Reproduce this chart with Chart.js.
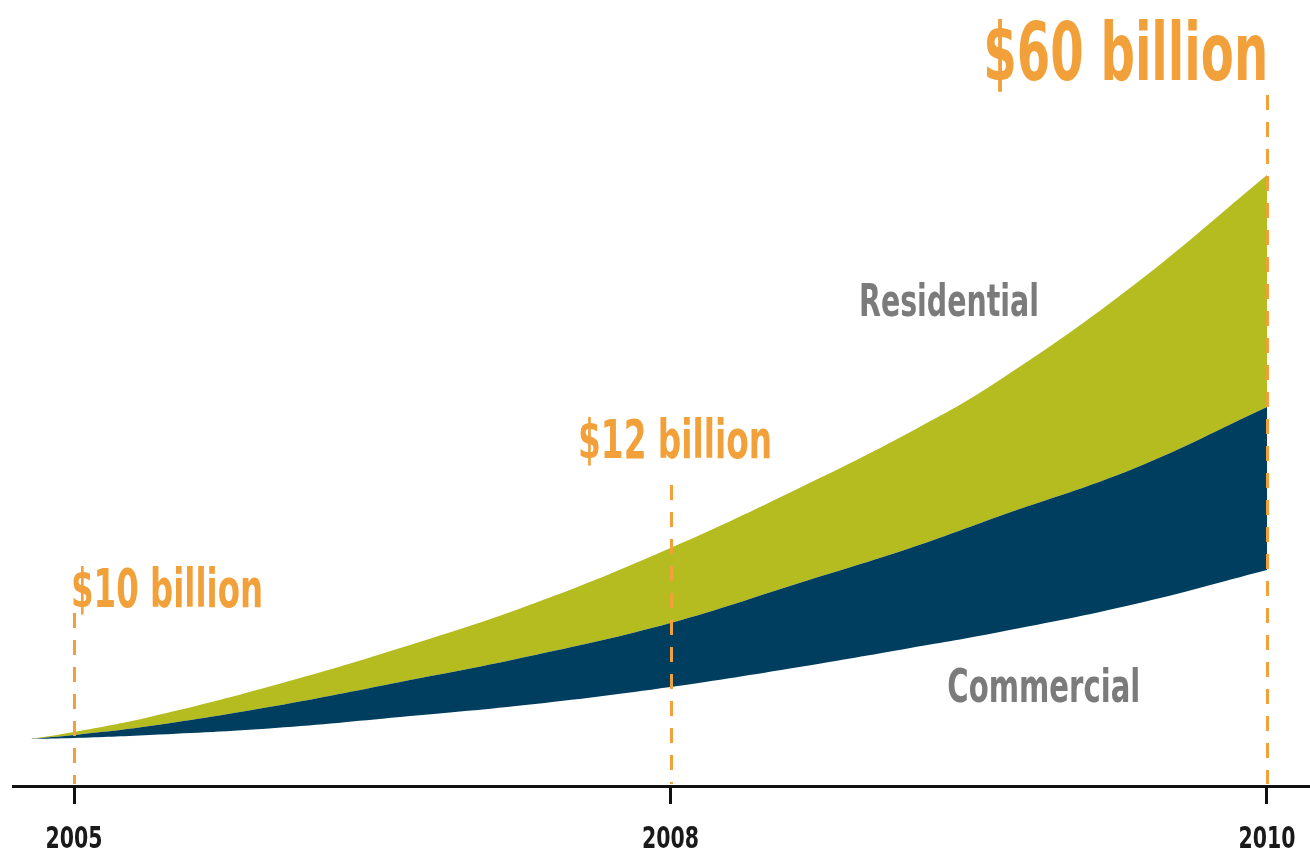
<!DOCTYPE html>
<html>
<head>
<meta charset="utf-8">
<script src="https://cdn.jsdelivr.net/npm/chart.js@4.4.1/dist/chart.umd.min.js"></script>
<style>
  html, body { margin: 0; padding: 0; background: #ffffff; }
  #wrap { width: 1310px; height: 855px; }
</style>
</head>
<body>
<div id="wrap"><canvas id="c" width="1310" height="855"></canvas></div>
<script>
// ---- data (x is position on the category-like time axis: 0 = 2005, 1 = 2008, 2 = 2010) ----
const tickValues = [0, 1, 2];
const tickLabels = ["2005", "2008", "2010"];
const xPos           = [-0.074, 0, 0.127, 0.337, 0.547, 0.773, 1.0, 1.216, 1.402, 1.552, 1.779, 2.0];
const lowerEdge      = [4.7, 4.8, 5.1, 5.8, 6.9, 8.2, 9.9, 11.9, 13.8, 15.4, 18.2, 21.6];
const commercialTop  = [4.7, 5.1, 6.0, 8.0, 10.4, 13.1, 16.3, 20.3, 23.8, 27.0, 31.8, 37.9];
const residentialTop = [4.7, 5.4, 6.9, 10.1, 13.8, 18.3, 23.8, 29.8, 35.4, 40.6, 50.2, 61.1];
const seriesNames = ["Commercial", "Residential"];
const valueLabels = ["$10 billion", "$12 billion", "$60 billion"];

const FONT = "'Liberation Sans Narrow','DejaVu Sans Condensed','Roboto',sans-serif";
const ORANGE = '#f2a03a';
const GREEN = '#b4bc1f';
const NAVY = '#003e5f';
const GRAY = '#7b7b7b';

function pts(arr) { return xPos.map((x, i) => ({ x: x, y: arr[i] })); }

function drawText(ctx, text, x, y, size, width, align, color) {
  ctx.save();
  ctx.font = 'bold ' + size + 'px ' + FONT;
  ctx.fillStyle = color;
  ctx.textBaseline = 'alphabetic';
  ctx.textAlign = 'left';
  const w = ctx.measureText(text).width;
  const sx = width / w;
  let left = x;
  if (align === 'right') left = x - width;
  if (align === 'center') left = x - width / 2;
  ctx.translate(left, y);
  ctx.scale(sx, 1);
  ctx.fillText(text, 0, 0);
  ctx.restore();
}

const annotations = {
  id: 'annotations',
  afterDatasetsDraw(chart) {
    const ctx = chart.ctx;
    const xs = chart.scales.x, ys = chart.scales.y;
    // dashed guide lines
    const guideTops = [17.3, 30.1, 69.1];
    ctx.save();
    ctx.strokeStyle = ORANGE;
    ctx.lineWidth = 3;
    ctx.setLineDash([15, 12]);
    tickValues.forEach((v, i) => {
      const px = Math.round(xs.getPixelForValue(v)) + 0.5;
      ctx.beginPath();
      ctx.moveTo(px, ys.getPixelForValue(guideTops[i]));
      ctx.lineTo(px, ys.getPixelForValue(0) - 2);
      ctx.stroke();
    });
    ctx.restore();
    // value labels
    drawText(ctx, valueLabels[0], xs.getPixelForValue(-0.005), ys.getPixelForValue(17.9), 53, 192, 'left', ORANGE);
    drawText(ctx, valueLabels[1], xs.getPixelForValue(0.845), ys.getPixelForValue(32.8), 53, 194, 'left', ORANGE);
    drawText(ctx, valueLabels[2], xs.getPixelForValue(2.002), ys.getPixelForValue(70.6), 80, 285, 'right', ORANGE);
    // series labels
    drawText(ctx, seriesNames[1], xs.getPixelForValue(1.316), ys.getPixelForValue(47.0), 44, 180, 'left', GRAY);
    drawText(ctx, seriesNames[0], xs.getPixelForValue(1.464), ys.getPixelForValue(8.4), 46, 193, 'left', GRAY);
    // year tick labels (condensed), placed at the axis' own tick positions
    xs.ticks.forEach((t, i) => {
      drawText(ctx, tickLabels[i], xs.getPixelForTick(i), ys.getPixelForValue(0) + 62, 31, 57, 'center', '#1a1a1a');
    });
  }
};

new Chart(document.getElementById('c'), {
  type: 'line',
  data: {
    datasets: [
      { label: 'base', data: pts(lowerEdge), borderWidth: 0, pointRadius: 0, fill: false,
        borderColor: 'rgba(0,0,0,0)', tension: 0.4 },
      { label: seriesNames[0], data: pts(commercialTop), borderWidth: 0, pointRadius: 0, fill: '-1',
        borderColor: 'rgba(0,0,0,0)', backgroundColor: NAVY, tension: 0.4 },
      { label: seriesNames[1], data: pts(residentialTop), borderWidth: 0, pointRadius: 0, fill: '-1',
        borderColor: 'rgba(0,0,0,0)', backgroundColor: GREEN, tension: 0.4 }
    ]
  },
  options: {
    responsive: false,
    animation: false,
    devicePixelRatio: 1,
    layout: { padding: { left: 13, right: 0, top: 0, bottom: 0 } },
    plugins: { legend: { display: false }, tooltip: { enabled: false } },
    scales: {
      x: {
        type: 'linear',
        min: -0.1023,
        max: 2.0721,
        afterBuildTicks: (s) => { s.ticks = tickValues.map(v => ({ value: v })); },
        afterFit: (s) => { s.paddingLeft = 0; s.paddingRight = 0; },
        grid: { display: true, drawOnChartArea: false, drawTicks: true, tickLength: 18, tickWidth: 3, tickColor: '#111111' },
        border: { display: true, color: '#111111', width: 3 },
        ticks: {
          padding: 7.5,
          color: 'rgba(0,0,0,0)',
          font: { family: FONT, size: 30, weight: 'bold' },
          maxRotation: 0,
          autoSkip: false,
          callback: (v) => { const i = tickValues.indexOf(v); return i >= 0 ? tickLabels[i] : ''; }
        }
      },
      y: { display: false, min: 0, max: 78.6 }
    }
  },
  plugins: [annotations]
});
</script>
</body>
</html>
